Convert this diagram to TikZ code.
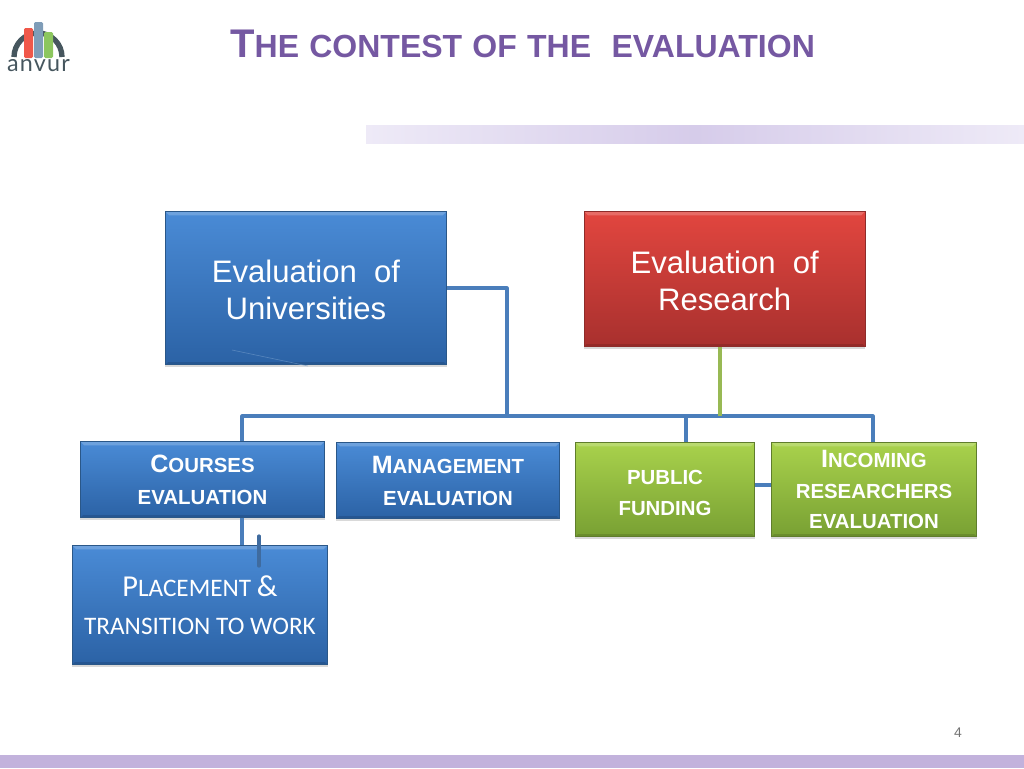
\documentclass[tikz,border=0pt]{standalone}
\usepackage{fontspec}
\setmainfont{Liberation Sans}
\newfontfamily\placefont{Carlito}
\newfontfamily\logofont[LetterSpace=5]{Lato}
\newfontfamily\titlefont[WordSpace=1.15]{Liberation Sans}
\usetikzlibrary{positioning,shadows}

\definecolor{titlepurple}{HTML}{7558A2}
\definecolor{barpurple}{HTML}{C2B2DC}
\definecolor{bandedge}{HTML}{EEEAF7}
\definecolor{bandmid}{HTML}{D6CCEA}
\definecolor{linkblue}{HTML}{4A7EBB}
\definecolor{linkgreen}{HTML}{98B954}
\definecolor{logoslate}{HTML}{46565E}
\definecolor{bookred}{HTML}{F0584A}
\definecolor{bookblue}{HTML}{7F9DB8}
\definecolor{bookgreen}{HTML}{8CC65E}
\definecolor{bluetop}{HTML}{4A8BD6}
\definecolor{bluebottom}{HTML}{2B62A5}
\definecolor{blueline}{HTML}{2A5788}
\definecolor{redtop}{HTML}{E2463F}
\definecolor{redbottom}{HTML}{A8302E}
\definecolor{redline}{HTML}{8E2C2A}
\definecolor{greentop}{HTML}{A9D24C}
\definecolor{greenbottom}{HTML}{78A033}
\definecolor{greenline}{HTML}{5F7D2C}

\newcommand{\capsize}[2]{{\fontsize{#1}{#1}\selectfont #2}}

\begin{document}
\begin{tikzpicture}[x=0.75pt,y=-0.75pt]
		\tikzstyle{box}=[rectangle, text=white, align=center, inner sep=0pt, line width=0.5pt,
			drop shadow={shadow xshift=0pt, shadow yshift=-1.6pt, opacity=0.3},
			path picture={
				\fill[white, opacity=0.2] (path picture bounding box.north west) -- (path picture bounding box.north east)
					-- ([shift={(-3pt,-3pt)}]path picture bounding box.north east) -- ([shift={(3pt,-3pt)}]path picture bounding box.north west) -- cycle;
				\fill[black, opacity=0.12] (path picture bounding box.south west) -- (path picture bounding box.south east)
					-- ([shift={(-2pt,2pt)}]path picture bounding box.south east) -- ([shift={(2pt,2pt)}]path picture bounding box.south west) -- cycle;
			}]
		\tikzstyle{bluebox}=[box, draw=blueline, top color=bluetop, bottom color=bluebottom]
		\tikzstyle{redbox}=[box, draw=redline, top color=redtop, bottom color=redbottom]
		\tikzstyle{greenbox}=[box, draw=greenline, top color=greentop, bottom color=greenbottom]
		\tikzstyle{large}=[font=\fontsize{23.3}{27.8}\selectfont]
		\tikzstyle{small}=[font=\fontsize{15.3}{24}\selectfont\bfseries]
		\tikzstyle{connect}=[line width=2.4pt, draw=linkblue, line join=round]
		\useasboundingbox (0,0) rectangle (1024,768);

		% title, band and footer
		\node (title) [anchor=base west, text=titlepurple, font=\titlefont\bfseries, inner sep=0pt] at (230,57)
			{\capsize{30}{T}\capsize{24}{HE CONTEST OF THE\ \ EVALUATION}};
		\shade[left color=bandedge, right color=bandedge, middle color=bandmid] (366,125) rectangle (1024,143);
		\fill[barpurple] (0,755) rectangle (1024,768);
		\node (pagenum) [text=black!55, font=\fontsize{10.5}{12}\selectfont] at (958,733) {4};

		% logo
		\draw[logoslate, line width=4pt] (14,57) arc[start angle=180, end angle=360, x radius=24, y radius=24];
		\fill[rounded corners=1pt, fill=bookred] (24,28) rectangle (33,58);
		\fill[rounded corners=1pt, fill=bookblue] (34,22) rectangle (43,58);
		\fill[rounded corners=1pt, fill=bookgreen] (44,32) rectangle (53,58);
		\node (logo) [text=logoslate, font=\logofont\fontsize{17.5}{17.5}\selectfont, inner sep=0pt] at (38.5,65.5) {anvur};

		% boxes
		\node[bluebox, large, minimum width=211pt, minimum height=115pt] (universities) at (306,288) {\rule{0pt}{20pt}Evaluation\ \ of\\Universities};
		\node[redbox, large, minimum width=211pt, minimum height=101.5pt] (research) [right=102.5pt of universities.north east, anchor=north west] {\rule{0pt}{20pt}Evaluation\ \ of\\Research};
		\node[bluebox, small, minimum width=183.25pt, minimum height=57.25pt] (courses) at (202.5,479.5) {\capsize{18.8}{C}OURSES\\EVALUATION};
		\node[bluebox, small, minimum width=167.5pt, minimum height=57.25pt] (management) [right=8.25pt of courses.north east, anchor=north west, yshift=-0.75pt] {\capsize{18.8}{M}ANAGEMENT\\EVALUATION};
		\node[greenbox, small, font=\fontsize{15.3}{23.25}\selectfont\bfseries, minimum width=134.5pt, minimum height=70.75pt] (funding) [right=11.25pt of management.north east, anchor=north west] {\rule{0pt}{15.5pt}PUBLIC\\FUNDING};
		\node[greenbox, small, font=\fontsize{15.3}{23}\selectfont\bfseries, minimum width=154pt, minimum height=70.75pt] (incoming) [right=12pt of funding.north east, anchor=north west] {\capsize{18.8}{I}NCOMING\\RESEARCHERS\\EVALUATION};
		\node[bluebox, minimum width=191.5pt, minimum height=89.5pt, font=\placefont\fontsize{18.9}{28.5}\selectfont] (placement) [below=20.25pt of courses, xshift=-1.9pt]
			{\capsize{22.8}{P}LACEMENT \capsize{22.8}{\&}\\TRANSITION TO WORK};

		% connectors
		\coordinate (busleft) at (242,416);
		\coordinate (busright) at (873,416);
		\coordinate (busuni) at (507,416);
		\coordinate (busres) at (720,416);
		\coordinate (busfund) at (686,416);
		\coordinate (stubtop) at (259,536);
		\coordinate (stubend) at (259,566);

		\draw[connect] (universities.east) -| (busuni);
		\draw[connect] (courses.north -| busleft) -- (busleft) -- (busright) -- (incoming.north -| busright);
		\draw[connect] (busfund) -- (funding.north -| busfund);
		\draw[connect] (funding.east |- 0,485) -- (incoming.west |- 0,485);
		\draw[connect] (courses.south -| busleft) -- (placement.north -| busleft);
		\draw[connect, draw=linkblue!85!black, line cap=round] (stubtop) -- (stubend);
		\draw[connect, draw=linkgreen] (research.south -| busres) -- (busres);
		\draw[linkblue!80!white, opacity=0.6, line width=0.5pt] (232,350) -- (308,366);
\end{tikzpicture}
\end{document}
